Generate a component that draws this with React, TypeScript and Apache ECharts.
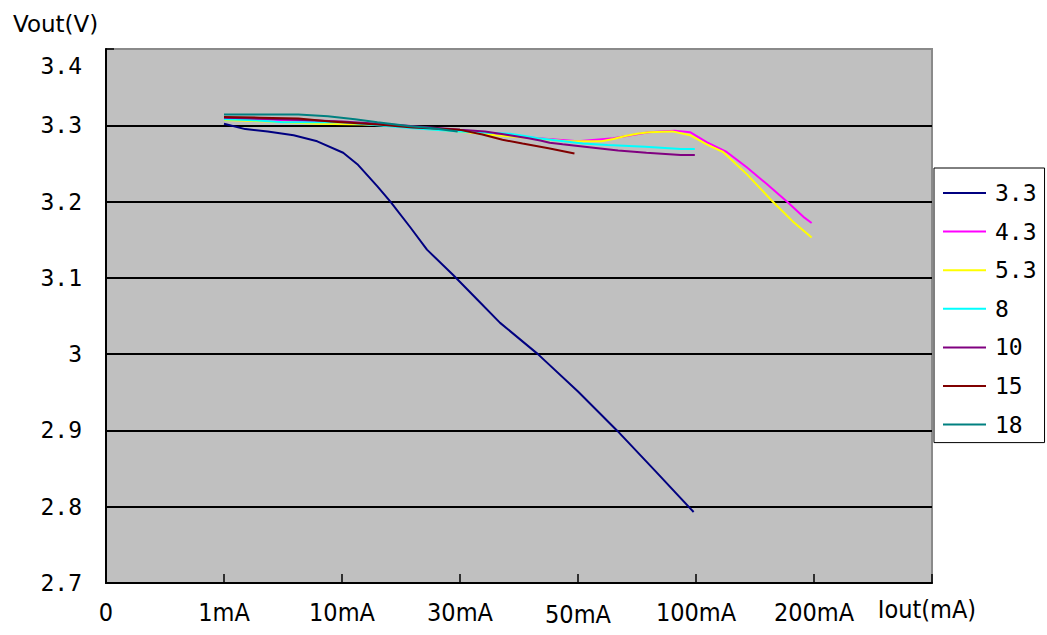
import React, { useEffect, useRef } from "react";
import * as echarts from "echarts";

const xLabels = ["0", "1mA", "10mA", "30mA", "50mA", "100mA", "200mA", "Iout(mA)"];
const yLabels = ["2.7", "2.8", "2.9", "3", "3.1", "3.2", "3.3", "3.4"];

const seriesNames = ["3.3", "4.3", "5.3", "8", "10", "15", "18"];
const seriesColors = ["#000080", "#FF00FF", "#FFFF00", "#00FFFF", "#800080", "#800000", "#008080"];

// [x position on category scale (0 = "0", 1 = "1mA", ...), Vout]
const v33 = [
  [1, 3.302], [1.18, 3.295], [1.37, 3.292], [1.59, 3.287], [1.79, 3.279], [2.01, 3.264],
  [2.13, 3.249], [2.3, 3.22], [2.41, 3.2], [2.58, 3.166], [2.72, 3.137], [2.94, 3.104],
  [3.15, 3.071], [3.34, 3.041], [3.66, 3.0], [4.0, 2.951], [4.33, 2.9], [4.66, 2.846], [4.98, 2.793],
];
const v43 = [
  [1, 3.309], [1.6, 3.306], [2.0, 3.303], [2.5, 3.299], [3.0, 3.293], [3.5, 3.285], [4.0, 3.279],
  [4.3, 3.283], [4.6, 3.291], [4.82, 3.293], [4.95, 3.291], [5.09, 3.278], [5.26, 3.265],
  [5.43, 3.245], [5.6, 3.223], [5.77, 3.2], [5.91, 3.18], [5.98, 3.172],
];
const v53 = [
  [1, 3.307], [1.2, 3.306], [1.5, 3.304], [1.8, 3.302], [2.2, 3.301], [2.4, 3.3], [2.6, 3.298],
  [2.75, 3.295], [3.0, 3.292], [3.3, 3.287], [3.7, 3.282], [3.9, 3.279], [4.2, 3.279], [4.3, 3.282],
  [4.4, 3.286], [4.5, 3.289], [4.6, 3.291], [4.8, 3.292], [4.95, 3.287], [5.09, 3.275], [5.23, 3.265],
  [5.43, 3.236], [5.65, 3.2], [5.82, 3.174], [5.98, 3.153],
];
const v8 = [
  [1, 3.308], [1.2, 3.307], [1.5, 3.304], [2.0, 3.304], [2.3, 3.3], [2.6, 3.296], [3.0, 3.292],
  [3.42, 3.289], [3.55, 3.286], [3.66, 3.283], [3.77, 3.281], [3.88, 3.279], [4.04, 3.276],
  [4.25, 3.274], [4.57, 3.272], [4.87, 3.269], [4.99, 3.269],
];
const v10 = [
  [1, 3.31], [1.5, 3.308], [2.0, 3.305], [2.5, 3.3], [3.0, 3.294], [3.21, 3.292], [3.34, 3.289],
  [3.42, 3.287], [3.58, 3.283], [3.68, 3.28], [3.76, 3.277], [3.87, 3.275], [4.0, 3.273],
  [4.17, 3.27], [4.34, 3.267], [4.58, 3.264], [4.87, 3.261], [4.99, 3.261],
];
const v15 = [
  [1, 3.311], [1.3, 3.31], [1.63, 3.309], [1.9, 3.305], [2.3, 3.301], [2.6, 3.297], [3.0, 3.294],
  [3.19, 3.288], [3.36, 3.281], [3.53, 3.276], [3.75, 3.27], [3.97, 3.263],
];
const v18 = [
  [1, 3.314], [1.63, 3.314], [1.88, 3.312], [2.11, 3.308], [2.3, 3.304], [2.56, 3.299],
  [2.77, 3.296], [2.98, 3.292],
];

const seriesData = [v33, v43, v53, v8, v10, v15, v18];

export default function App() {
  const ref = useRef<HTMLDivElement>(null);
  useEffect(() => {
    if (!ref.current) return;
    const chart = echarts.init(ref.current, null, { renderer: "svg" });
    const mono = "DejaVu Sans Mono";
    const cond = "DejaVu Sans Condensed, DejaVu Sans";
    chart.setOption({
      animation: false,
      backgroundColor: "#ffffff",
      grid: {
        left: 106,
        top: 49,
        width: 826,
        height: 534,
        show: true,
        backgroundColor: "#C0C0C0",
        borderColor: "#8a8a8a",
        borderWidth: 2,
        containLabel: false,
        outerBoundsMode: "none",
      },
      graphic: [
        {
          type: "text",
          left: 13,
          top: 12,
          style: { text: "Vout(V)", fontFamily: "DejaVu Sans", fontSize: 23, fill: "#000" },
        },
      ],
      xAxis: {
        type: "value",
        min: 0,
        max: 7,
        interval: 1,
        axisLine: { show: true, onZero: false, lineStyle: { color: "#000", width: 2 } },
        axisTick: { show: true, inside: true, length: 9, lineStyle: { color: "#000", width: 1.5 } },
        splitLine: { show: false },
        axisLabel: {
          show: true,
          showMinLabel: true,
          showMaxLabel: true,
          margin: 12,
          color: "#000",
          fontFamily: cond,
          fontSize: 25,
          formatter: (v: number) => {
            const i = Math.round(v);
            if (i === 4) return `{low|${xLabels[i]}}`;
            if (i === 7) return `{nm|${xLabels[i]}}`;
            return `{n|${xLabels[i]}}`;
          },
          rich: {
            n: { fontFamily: cond, fontSize: 25, lineHeight: 26, color: "#000", padding: [9, 0, 0, 0] },
            low: { fontFamily: cond, fontSize: 25, lineHeight: 26, color: "#000", padding: [13, 0, 0, 0] },
            nm: { fontFamily: cond, fontSize: 25, lineHeight: 26, color: "#000", padding: [2, 10, 0, 0] },
          },
        },
      },
      yAxis: {
        type: "value",
        min: 2.7,
        max: 3.4,
        interval: 0.1,
        axisLine: { show: true, lineStyle: { color: "#000", width: 2 } },
        axisTick: { show: true, inside: true, length: 8, lineStyle: { color: "#000", width: 1.5 } },
        splitLine: {
          show: true,
          showMinLine: false,
          showMaxLine: false,
          lineStyle: { color: "#000", width: 2 },
        },
        axisLabel: {
          margin: 24,
          color: "#000",
          fontFamily: mono,
          fontSize: 23,
          formatter: (v: number) => {
            const i = Math.round((v - 2.7) * 10);
            if (i === 7) return `{top|${yLabels[i]}}`;
            return `{n|${yLabels[i]}}`;
          },
          rich: {
            n: { fontFamily: mono, fontSize: 23, color: "#000" },
            top: { fontFamily: mono, fontSize: 23, color: "#000", padding: [34, 0, 0, 0] },
          },
        },
      },
      legend: {
        orient: "vertical",
        left: 934,
        top: 168,
        backgroundColor: "#ffffff",
        borderColor: "#000",
        borderWidth: 1,
        borderRadius: 0,
        padding: [13, 8, 6, 9],
        icon: "rect",
        itemWidth: 43,
        itemHeight: 2,
        itemGap: 14.6,
        textStyle: { fontFamily: mono, fontSize: 23, color: "#000", lineHeight: 24, padding: [0, 0, 0, 4] },
        data: seriesNames,
      },
      series: seriesNames.map((name, k) => ({
        name,
        type: "line",
        data: seriesData[k],
        symbol: "none",
        showSymbol: false,
        smooth: false,
        color: seriesColors[k],
        lineStyle: { color: seriesColors[k], width: 2 },
        z: 3 + k,
      })),
    });
    return () => chart.dispose();
  }, []);
  return (
    <div
      ref={ref}
      style={{ position: "fixed", left: 0, top: 0, width: 1047, height: 635 }}
    />
  );
}
